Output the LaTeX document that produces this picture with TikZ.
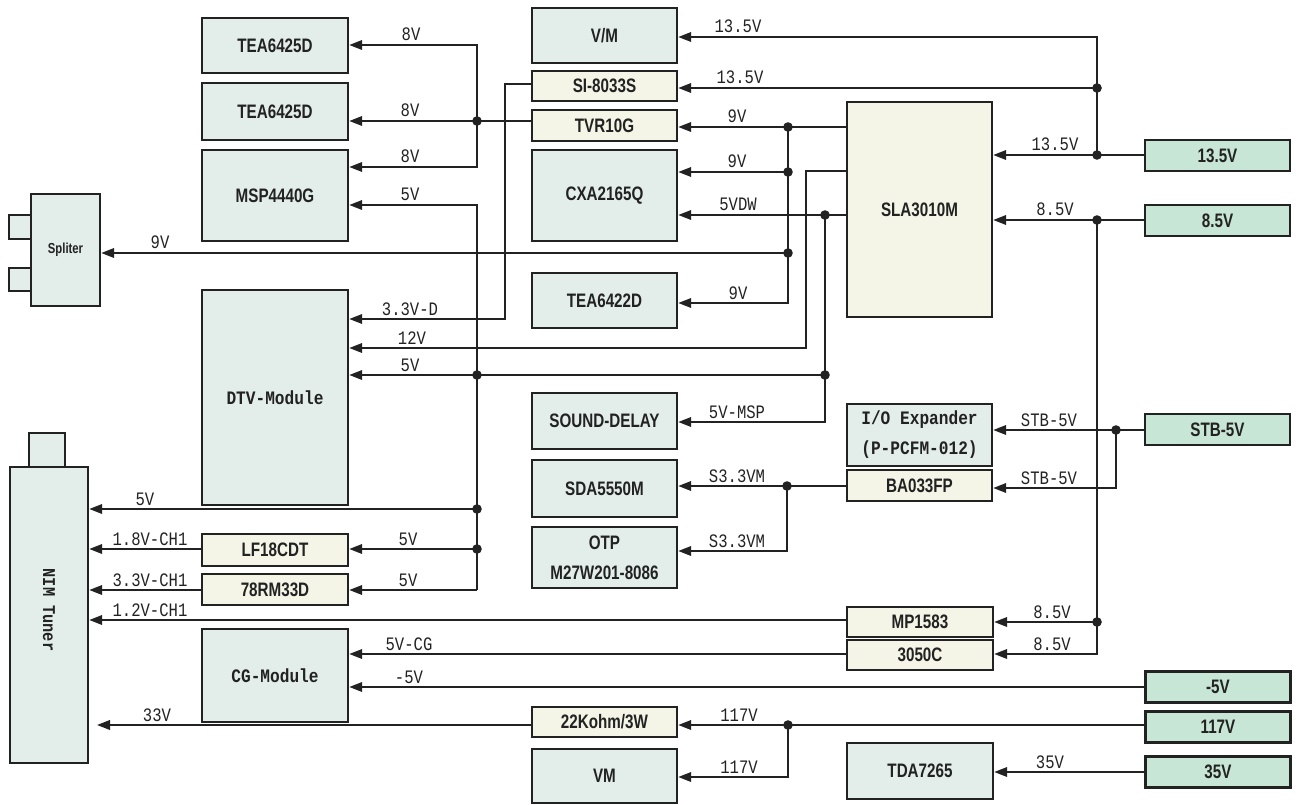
\documentclass[tikz,border=0pt]{standalone}
\usepackage{fontspec}
\usetikzlibrary{arrows.meta}
\newfontfamily\boxfont[FakeStretch=0.78]{Liberation Sans Bold}
\newfontfamily\monobold[FakeStretch=0.85]{Liberation Mono Bold}
\newfontfamily\lblfont[FakeStretch=0.82]{Liberation Mono}
\definecolor{ln}{HTML}{222222}
\definecolor{icfill}{HTML}{E3EEEA}
\definecolor{crfill}{HTML}{F4F5E6}
\definecolor{grfill}{HTML}{C8E6D5}
\begin{document}
\begin{tikzpicture}[x=1pt,y=-1pt,
 boxbase/.style={draw=ln, line width=2.4pt, inner sep=0pt, text=ln, font=\boxfont\fontsize{19.5}{30}\selectfont, align=center},
 ic/.style={boxbase, fill=icfill},
 reg/.style={boxbase, fill=crfill},
 sup/.style={boxbase, fill=grfill, minimum width=145pt, minimum height=31pt},
 mono/.style={font=\monobold\fontsize{19}{30}\selectfont},
 conn/.style={draw=ln, line width=2.1pt},
 arr/.style={conn, -{Triangle[length=13pt,width=9.5pt]}},
 lbl/.style={font=\lblfont\fontsize{19}{20}\selectfont, anchor=base, yshift=4pt, inner sep=0pt, text=ln}]
\useasboundingbox (0,0) rectangle (1296,805);

% ---------- IC boxes ----------
\node[ic, minimum width=146pt, minimum height=55pt] (tea1) at (275,45.5) {TEA6425D};
\node[ic, minimum width=146pt, minimum height=57pt] (tea2) at (275,111.5) {TEA6425D};
\node[ic, minimum width=146pt, minimum height=91pt] (msp) at (275,195.5) {MSP4440G};
\node[ic, mono, minimum width=146pt, minimum height=215pt] (dtv) at (275,397.5) {DTV-Module};
\node[ic, mono, minimum width=146pt, minimum height=93pt] (cg) at (275,675.5) {CG-Module};
\node[ic, minimum width=145pt, minimum height=55pt] (vm1) at (604.5,35.5) {V/M};
\node[ic, minimum width=145pt, minimum height=91pt] (cxa) at (604.5,195.5) {CXA2165Q};
\node[ic, minimum width=145pt, minimum height=55pt] (tea3) at (604.5,300.5) {TEA6422D};
\node[ic, minimum width=145pt, minimum height=56pt] (snd) at (604.5,421) {SOUND-DELAY};
\node[ic, minimum width=145pt, minimum height=57pt] (sda) at (604.5,488.5) {SDA5550M};
\node[ic, minimum width=145pt, minimum height=61pt] (otp) at (604.5,557.5) {OTP\\M27W201-8086};
\node[ic, minimum width=145pt, minimum height=54pt] (vm2) at (604.5,776) {VM};
\node[ic, mono, minimum width=145pt, minimum height=62pt] (io) at (919.5,435) {I/O Expander\\(P-PCFM-012)};
\node[ic, minimum width=146pt, minimum height=56pt] (tda) at (920,771) {TDA7265};

% Spliter
\node[ic, minimum width=24pt, minimum height=24pt] (sq1) at (21,227) {};
\node[ic, minimum width=24pt, minimum height=23pt] (sq2) at (21,279.5) {};
\node[ic, minimum width=69pt, minimum height=112pt, font=\boxfont\fontsize{14.5}{16}\selectfont] (spl) at (65.5,250) {Spliter};

% NIM tuner
\node[ic, minimum width=36pt, minimum height=36pt] (tab) at (47,451) {};
\node[ic, minimum width=78pt, minimum height=296pt] (nim) at (49,615) {};
\node[font=\monobold\fontsize{18}{20}\selectfont, text=ln, rotate=-90] (nimt) at (49,610) {NIM Tuner};

% ---------- regulator boxes ----------
\node[reg, minimum width=145pt, minimum height=30pt] (si) at (604.5,86) {SI-8033S};
\node[reg, minimum width=145pt, minimum height=31pt] (tvr) at (604.5,125.5) {TVR10G};
\node[reg, minimum width=145pt, minimum height=215pt] (sla) at (919.5,209.5) {SLA3010M};
\node[reg, minimum width=146pt, minimum height=32pt] (lf) at (275,550) {LF18CDT};
\node[reg, minimum width=146pt, minimum height=31pt] (rm) at (275,589.5) {78RM33D};
\node[reg, minimum width=145pt, minimum height=31pt] (ba) at (919.5,485.5) {BA033FP};
\node[reg, minimum width=146pt, minimum height=30pt] (mp) at (920,622) {MP1583};
\node[reg, minimum width=146pt, minimum height=30pt] (c3050) at (920,655) {3050C};
\node[reg, minimum width=145pt, minimum height=30pt] (r22) at (604.5,722) {22Kohm/3W};

% ---------- supply boxes ----------
\node[sup] (s135) at (1217.5,155.5) {13.5V};
\node[sup] (s85) at (1217.5,220.5) {8.5V};
\node[sup] (sstb) at (1217.5,429.5) {STB-5V};
\node[sup] (sm5) at (1218,687) {-5V};
\node[sup] (s117) at (1218,727) {117V};
\node[sup] (s35) at (1218,772) {35V};

% ---------- junction coordinates ----------
\coordinate (jA) at (1097,37);
\coordinate (jB) at (1097,88);
\coordinate (jC) at (1097,155);
\coordinate (jD) at (1097,220);
\coordinate (jE) at (1097,622);
\coordinate (jF) at (1097,654);
\coordinate (jG) at (1116,430);
\coordinate (jH) at (1116,488);
\coordinate (jI) at (788,127);
\coordinate (jJ) at (788,172);
\coordinate (jK) at (788,253);
\coordinate (jL) at (788,303);
\coordinate (jM) at (806,171);
\coordinate (jN) at (806,348);
\coordinate (jO) at (825,215);
\coordinate (jP) at (825,375);
\coordinate (jQ) at (825,422);
\coordinate (jR) at (477,375);
\coordinate (jS) at (477,205);
\coordinate (jT) at (477,509);
\coordinate (jU) at (477,549);
\coordinate (jV) at (477,590);
\coordinate (jW) at (477,121);
\coordinate (jX) at (477,45);
\coordinate (jY) at (477,167);
\coordinate (jZ) at (505,84);
\coordinate (jZb) at (505,319);
\coordinate (kA) at (787,486);
\coordinate (kB) at (787,551);
\coordinate (kC) at (788,725);
\coordinate (kD) at (788,777);
\coordinate (kE) at (0,620);
\coordinate (t33) at (97,725);

% ---------- connectors ----------
% 13.5V
\draw[conn] (s135.west |- jC) -- (jC);
\draw[arr] (jC) -- (sla.east |- jC);
\draw[arr] (jC) -- (jA) -- (vm1.east |- jA);
\draw[arr] (jB) -- (si.east |- jB);
% 8.5V
\draw[arr] (s85.west |- jD) -- (sla.east |- jD);
\draw[arr] (jD) -- (jF) -- (c3050.east |- jF);
\draw[arr] (jE) -- (mp.east |- jE);
% STB-5V
\draw[arr] (sstb.west |- jG) -- (io.east |- jG);
\draw[arr] (jG) -- (jH) -- (ba.east |- jH);
% SLA 9V
\draw[arr] (sla.west |- jI) -- (tvr.east |- jI);
\draw[arr] (jI) -- (jL) -- (tea3.east |- jL);
\draw[arr] (jJ) -- (cxa.east |- jJ);
\draw[arr] (jK) -- (spl.east |- jK);
% SLA 12V
\draw[arr] (sla.west |- jM) -- (jM) -- (jN) -- (dtv.east |- jN);
% SLA 5VDW
\draw[arr] (sla.west |- jO) -- (cxa.east |- jO);
\draw[arr] (jO) -- (jQ) -- (snd.east |- jQ);
\draw[arr] (jP) -- (dtv.east |- jP);
% 5V distribution
\draw[arr] (jV) -- (jS) -- (msp.east |- jS);
\draw[arr] (jV) -- (rm.east |- jV);
\draw[arr] (jT) -- (nim.east |- jT);
\draw[arr] (jU) -- (lf.east |- jU);
% TVR10G 8V
\draw[conn] (tvr.west |- jW) -- (jW);
\draw[arr] (jW) -- (tea2.east |- jW);
\draw[arr] (jY) -- (jX) -- (tea1.east |- jX);
\draw[arr] (jX) -- (jY) -- (msp.east |- jY);
% SI-8033S 3.3V-D
\draw[arr] (si.west |- jZ) -- (jZ) -- (jZb) -- (dtv.east |- jZb);
% S3.3VM
\draw[arr] (ba.west |- kA) -- (sda.east |- kA);
\draw[arr] (kA) -- (kB) -- (otp.east |- kB);
% NIM supplies
\draw[arr] (lf.west |- jU) -- (nim.east |- jU);
\draw[arr] (rm.west |- jV) -- (nim.east |- jV);
\draw[arr] (mp.west |- kE) -- (nim.east |- kE);
% CG
\draw[arr] (c3050.west |- jF) -- (cg.east |- jF);
\draw[arr] (sm5.west) -- (cg.east |- sm5.west);
% 117V
\draw[arr] (s117.west |- kC) -- (r22.east |- kC);
\draw[arr] (kC) -- (kD) -- (vm2.east |- kD);
\draw[arr] (r22.west |- kC) -- (t33);
% 35V
\draw[arr] (s35.west) -- (tda.east |- s35.west);

% ---------- junction dots ----------
\foreach \p in {jB,jC,jD,jE,jG,jI,jJ,jK,jO,jP,jR,jT,jU,jW,kA,kC}
  \fill[ln] (\p) circle (4.8pt);

% ---------- labels ----------
\node[lbl] (l1) at (738,37) {13.5V};
\node[lbl] (l2) at (740,88) {13.5V};
\node[lbl] (l3) at (1055,155) {13.5V};
\node[lbl] (l4) at (1055,220) {8.5V};
\node[lbl] (l5) at (1049,430) {STB-5V};
\node[lbl] (l6) at (1049,488) {STB-5V};
\node[lbl] (l7) at (1052,622) {8.5V};
\node[lbl] (l8) at (1052,654) {8.5V};
\node[lbl] (l9) at (737,127) {9V};
\node[lbl] (l10) at (737,172) {9V};
\node[lbl] (l11) at (738,215) {5VDW};
\node[lbl] (l12) at (738,303) {9V};
\node[lbl] (l13) at (411,45) {8V};
\node[lbl] (l14) at (410,121) {8V};
\node[lbl] (l15) at (410,167) {8V};
\node[lbl] (l16) at (410,205) {5V};
\node[lbl] (l17) at (160,253) {9V};
\node[lbl] (l18) at (410,319) {3.3V-D};
\node[lbl] (l19) at (412,348) {12V};
\node[lbl] (l20) at (410,375) {5V};
\node[lbl] (l21) at (737,422) {5V-MSP};
\node[lbl] (l22) at (737,486) {S3.3VM};
\node[lbl] (l23) at (737,551) {S3.3VM};
\node[lbl] (l24) at (145,509) {5V};
\node[lbl] (l25) at (408,549) {5V};
\node[lbl] (l26) at (408,590) {5V};
\node[lbl] (l27) at (150,549) {1.8V-CH1};
\node[lbl] (l28) at (150,590) {3.3V-CH1};
\node[lbl] (l29) at (150,620) {1.2V-CH1};
\node[lbl] (l30) at (409,654) {5V-CG};
\node[lbl] (l31) at (409,687) {-5V};
\node[lbl] (l32) at (739,725) {117V};
\node[lbl] (l33) at (739,777) {117V};
\node[lbl] (l34) at (157,725) {33V};
\node[lbl] (l35) at (1050,772) {35V};
\end{tikzpicture}
\end{document}
